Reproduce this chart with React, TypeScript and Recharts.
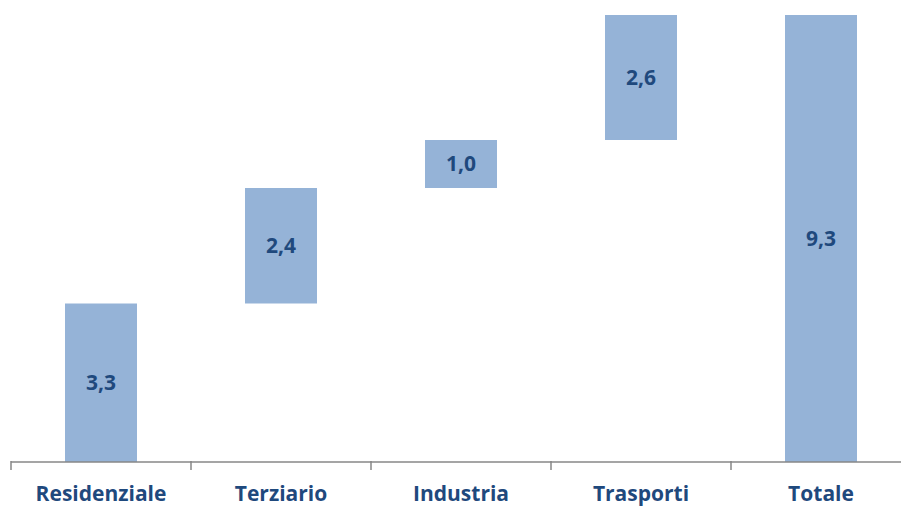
import { BarChart, Bar, XAxis, YAxis, LabelList } from "recharts";

const categories = ["Residenziale", "Terziario", "Industria", "Trasporti", "Totale"];
const offsets = [0, 3.3, 5.7, 6.7, 0];
const values = [3.3, 2.4, 1.0, 2.6, 9.3];

const data = categories.map((name, i) => ({
  name,
  base: offsets[i],
  value: values[i],
}));

const BAR_COLOR = "#95b3d7";
const TEXT_COLOR = "#1f497d";
const FONT = "'Open Sans', sans-serif";

function CategoryTick(props: any) {
  const { x, y, payload } = props;
  const half = payload?.offset ?? 90;
  return (
    <g>
      <line x1={x - half} x2={x - half} y1={y - 1} y2={y + 8} stroke="#878787" strokeWidth={1.5} />
      <text
        x={x}
        y={y + 39}
        textAnchor="middle"
        fill={TEXT_COLOR}
        fontFamily={FONT}
        fontWeight={700}
        fontSize={21}
      >
        {payload.value}
      </text>
    </g>
  );
}

export default function App() {
  return (
    <div
      style={{
        position: "absolute",
        left: 0,
        top: 0,
        width: 901,
        height: 508,
        overflow: "hidden",
        background: "#fff",
      }}
    >
      <BarChart
        width={912}
        height={508}
        data={data}
        margin={{ top: 15, right: 1, left: 11, bottom: 0 }}
        barCategoryGap="30%"
      >
        <XAxis
          dataKey="name"
          axisLine={{ stroke: "#878787", strokeWidth: 1.5 }}
          tickLine={false}
          tick={<CategoryTick />}
          tickSize={0}
          tickMargin={0}
          height={46}
          interval={0}
        />
        <YAxis hide domain={[0, 9.3]} />
        <Bar dataKey="base" stackId="w" fill="transparent" isAnimationActive={false} />
        <Bar dataKey="value" stackId="w" fill={BAR_COLOR} isAnimationActive={false}>
          <LabelList
            dataKey="value"
            position="center"
            formatter={(v: any) => Number(v).toFixed(1).replace(".", ",")}
            fill={TEXT_COLOR}
            fontFamily={FONT}
            fontWeight={700}
            fontSize={21}
          />
        </Bar>
      </BarChart>
    </div>
  );
}
